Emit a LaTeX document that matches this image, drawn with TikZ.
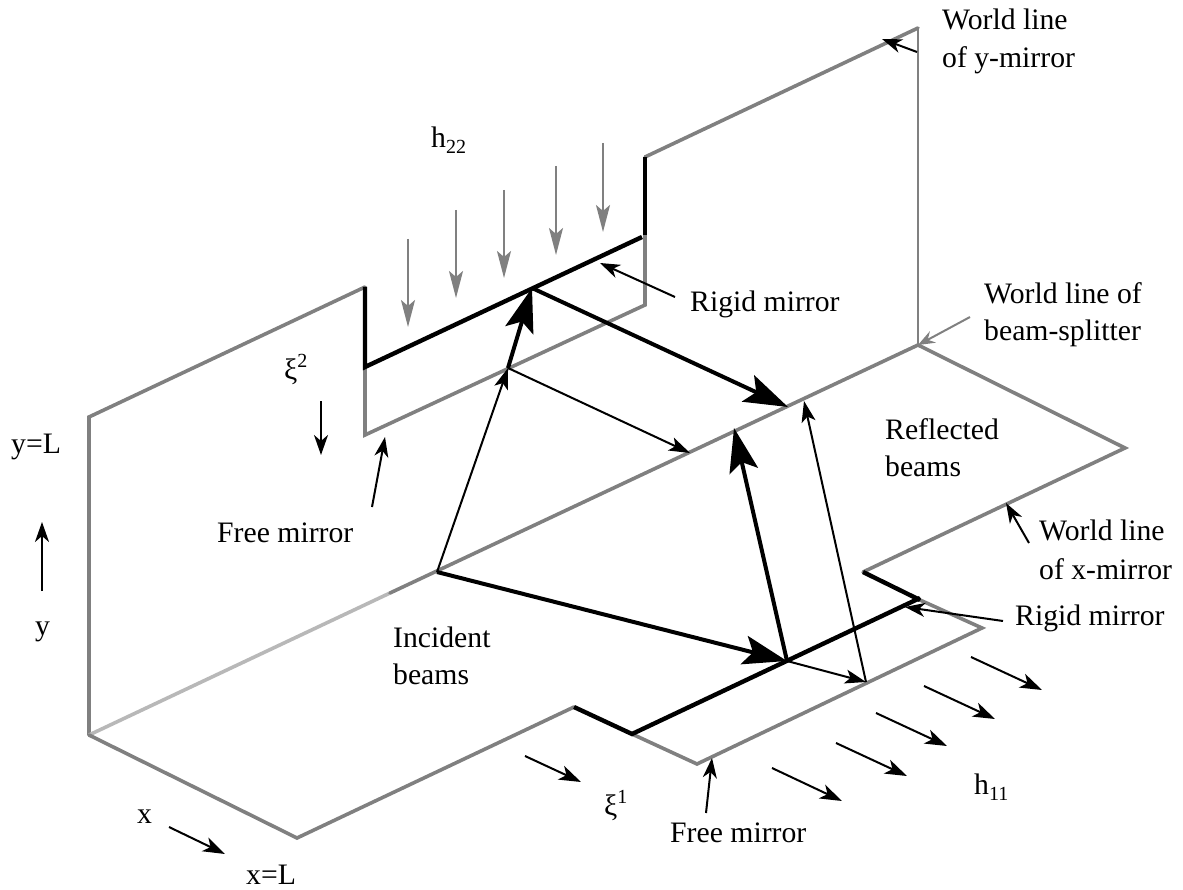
\documentclass[tikz,border=0pt]{standalone}
\usepackage{fontspec}
\setmainfont{Liberation Serif}
\usetikzlibrary{arrows.meta}
\newcommand{\subtxt}[1]{\raisebox{-6pt}{\fontsize{20}{20}\selectfont #1}}
\newcommand{\suptxt}[1]{\raisebox{12pt}{\fontsize{20}{20}\selectfont #1}}
\tikzset{
  wl/.style={draw=black!50,line width=3.6pt,line cap=round},
  wlthin/.style={draw=black!50,line width=2.4pt},
  wllight/.style={draw=black!28,line width=3.6pt},
  mir/.style={draw=black,line width=4.4pt},
  bigbeam/.style={draw=black,line width=4pt,-{Stealth[length=44pt,width=29pt,inset=9pt]}},
  smallbeam/.style={draw=black,line width=2pt,-{Stealth[length=21pt,width=14pt,inset=5pt]}},
  note/.style={draw=black,line width=2pt,-{Stealth[length=20pt,width=14pt,inset=6pt]}},
  wave/.style={draw=black!50,line width=2.2pt,-{Stealth[length=27pt,width=14pt,inset=6pt]}},
  wavex/.style={draw=black,line width=2pt,-{Stealth[length=22pt,width=15pt,inset=6pt]}},
  lab/.style={inner sep=0pt,font=\fontsize{29.7}{34}\selectfont},
}
\begin{document}
\begin{tikzpicture}[x=1pt,y=-1pt]
\useasboundingbox (0,0) rectangle (1183,890);
\coordinate (O) at (89,735);
\coordinate (A) at (89,417);
\coordinate (B) at (365,287);
\coordinate (C) at (365,367);
\coordinate (D) at (365,435);
\coordinate (E) at (645,305);
\coordinate (F) at (645,235);
\coordinate (G) at (645,157);
\coordinate (H) at (918,28);
\coordinate (S) at (918,345);
\coordinate (Ib) at (437,572);
\coordinate (Fade) at (390,593);
\coordinate (J) at (1125,448);
\coordinate (K) at (863,572);
\coordinate (L) at (920,600);
\coordinate (M) at (982,628);
\coordinate (N) at (697,764);
\coordinate (P) at (632,734);
\coordinate (Q) at (574,707);
\coordinate (R) at (297,838);
\coordinate (Ry) at (532,288);
\coordinate (Fy) at (508,368);
\coordinate (Rx) at (787,661);
\coordinate (Fx) at (866,682);
\coordinate (T1) at (788,407);
\coordinate (T2) at (734,428);
\coordinate (T3) at (690,453);
\coordinate (T4) at (804,401);
% world lines
\draw[wl] (O) -- (A) -- (B);
\draw[wl] (C) -- (D) -- (E) -- (F);
\draw[wl] (G) -- (H);
\draw[wlthin] (H) -- (S);
\draw[wllight] (O) -- (Fade);
\draw[wl] (Fade) -- (S) -- (J) -- (K);
\draw[wl] (L) -- (M) -- (N) -- (P);
\draw[wl] (Q) -- (R) -- (O);
% mirrors
\draw[mir] (B) -- (C) -- (642,237);
\draw[mir] (F) -- (G);
\draw[mir] (K) -- (L);
\draw[mir] (Q) -- (P) -- (920,598);
% beams
\draw[bigbeam] (Ib) -- (Rx);
\draw[bigbeam] (Rx) -- (T2);
\draw[bigbeam] (Fy) -- (Ry);
\draw[bigbeam] (Ry) -- (T1);
\draw[smallbeam] (Ib) -- (Fy);
\draw[smallbeam] (Fy) -- (T3);
\draw[smallbeam] (Rx) -- (Fx);
\draw[smallbeam] (Fx) -- (T4);
% h22 waves
\coordinate (w1s) at (408,239); \coordinate (w1e) at (408,327);
\coordinate (w2s) at (456,210); \coordinate (w2e) at (456,298);
\coordinate (w3s) at (504,190); \coordinate (w3e) at (504,278);
\coordinate (w4s) at (556,166); \coordinate (w4e) at (556,255);
\coordinate (w5s) at (603,143); \coordinate (w5e) at (603,232);
\foreach \i in {1,...,5} \draw[wave] (w\i s) -- (w\i e);
% h11 waves
\coordinate (v1s) at (772,768); \coordinate (v1e) at (842,801);
\coordinate (v2s) at (836,743); \coordinate (v2e) at (907,776);
\coordinate (v3s) at (876,713); \coordinate (v3e) at (947,746);
\coordinate (v4s) at (924,686); \coordinate (v4e) at (995,719);
\coordinate (v5s) at (971,657); \coordinate (v5e) at (1042,690);
\foreach \i in {1,...,5} \draw[wavex] (v\i s) -- (v\i e);
% labels
\node[lab,anchor=base west] (lwy) at (942,30) {World line};
\node[lab,anchor=base west] (lwy2) at (942,68) {of y-mirror};
\node[lab,anchor=base west] (lh22) at (431,148) {h\subtxt{22}};
\node[lab,anchor=base west] (lrm) at (690,312) {Rigid mirror};
\node[lab,anchor=base west] (lbs) at (984,304) {World line of};
\node[lab,anchor=base west] (lbs2) at (984,341) {beam-splitter};
\node[lab,anchor=base west] (lxi2) at (284,379) {ξ\suptxt{2}};
\node[lab,anchor=base west] (lref) at (885,439) {Reflected};
\node[lab,anchor=base west] (lref2) at (885,476) {beams};
\node[lab,anchor=base west] (lyl) at (11,453) {y=L};
\node[lab,anchor=base west] (lfm) at (217,542) {Free mirror};
\node[lab,anchor=base west] (lwx) at (1039,540) {World line};
\node[lab,anchor=base west] (lwx2) at (1039,579) {of x-mirror};
\node[lab,anchor=base west] (lrx) at (1015,625) {Rigid mirror};
\node[lab,anchor=base west] (ly) at (35,635) {y};
\node[lab,anchor=base west] (linc) at (393,647) {Incident};
\node[lab,anchor=base west] (linc2) at (393,684) {beams};
\node[lab,anchor=base west] (lh11) at (974,794) {h\subtxt{11}};
\node[lab,anchor=base west] (lxi1) at (604,815) {ξ\suptxt{1}};
\node[lab,anchor=base west] (lx) at (137,823) {x};
\node[lab,anchor=base west] (lfx) at (670,842) {Free mirror};
\node[lab,anchor=base west] (lxl) at (246,884) {x=L};
% pointer arrows
\coordinate (a1s) at (917,52); \coordinate (a1e) at (882,39);
\coordinate (a2s) at (675,297); \coordinate (a2e) at (600,263);
\coordinate (a4s) at (372,507); \coordinate (a4e) at (385,437);
\coordinate (a5s) at (1029,543); \coordinate (a5e) at (1006,503);
\coordinate (a6s) at (1003,621); \coordinate (a6e) at (905,607);
\coordinate (a7s) at (706,813); \coordinate (a7e) at (712,758);
\foreach \i in {1,2,4,5,6,7} \draw[note] (a\i s) -- (a\i e);
\coordinate (a3s) at (970,317);
\draw[draw=black!50,line width=2pt,-{Stealth[length=17pt,width=13pt,inset=6pt]}] (a3s) -- (S);
\coordinate (xi2s) at (321,401); \coordinate (xi2e) at (321,455);
\draw[note] (xi2s) -- (xi2e);
\coordinate (xi1s) at (525,756); \coordinate (xi1e) at (581,782);
\draw[wavex] (xi1s) -- (xi1e);
\coordinate (ys) at (42,591); \coordinate (ye) at (42,522);
\draw[note] (ys) -- (ye);
\coordinate (xs) at (169,827); \coordinate (xe) at (225,854);
\draw[wavex] (xs) -- (xe);
\end{tikzpicture}
\end{document}
